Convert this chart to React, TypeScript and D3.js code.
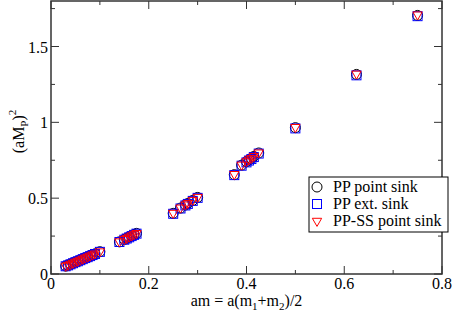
import * as d3 from 'd3';
import React from 'react';

// am = a(m1+m2)/2
const amValues = [
  0.03, 0.035, 0.04, 0.045, 0.05, 0.055, 0.06, 0.065, 0.07, 0.075, 0.08, 0.085, 0.09, 0.1,
  0.14, 0.15, 0.155, 0.16, 0.165, 0.17, 0.175,
  0.25, 0.265, 0.275, 0.28, 0.29, 0.3,
  0.375, 0.39, 0.4, 0.405, 0.41, 0.415, 0.425,
  0.5, 0.625, 0.75,
];

const ppPointSink = [
  0.052, 0.058, 0.065, 0.072, 0.079, 0.085, 0.092, 0.099, 0.106, 0.112, 0.119, 0.126, 0.133, 0.147,
  0.212, 0.228, 0.236, 0.244, 0.252, 0.26, 0.268,
  0.4, 0.435, 0.455, 0.465, 0.485, 0.505,
  0.655, 0.718, 0.74, 0.752, 0.762, 0.775, 0.798,
  0.965, 1.316, 1.705,
];

const ppExtSink = [
  0.051, 0.057, 0.064, 0.071, 0.078, 0.084, 0.091, 0.098, 0.105, 0.111, 0.118, 0.125, 0.132, 0.146,
  0.211, 0.226, 0.234, 0.242, 0.25, 0.258, 0.266,
  0.397, 0.432, 0.452, 0.462, 0.482, 0.502,
  0.652, 0.714, 0.736, 0.748, 0.758, 0.771, 0.794,
  0.96, 1.31, 1.7,
];

const ppSSPointSink = [
  0.053, 0.059, 0.066, 0.073, 0.08, 0.086, 0.093, 0.1, 0.107, 0.113, 0.12, 0.127, 0.134, 0.148,
  0.214, 0.229, 0.237, 0.245, 0.253, 0.261, 0.269,
  0.402, 0.437, 0.457, 0.467, 0.487, 0.507,
  0.658, 0.72, 0.742, 0.754, 0.764, 0.777, 0.8,
  0.968, 1.32, 1.71,
];

const legendLabels = ['PP point sink', 'PP ext. sink', 'PP-SS point sink'];

const xMajor = [0, 0.2, 0.4, 0.6, 0.8];
const xMinor = [0.1, 0.3, 0.5, 0.7];
const yMajor = [0, 0.5, 1, 1.5];
const yMinor = [0.25, 0.75, 1.25, 1.75];

const W = 452;
const H = 312;
const margin = { top: 1, right: 10, bottom: 38, left: 51 };
const serif = { fontFamily: 'Liberation Serif' };

const x = d3.scaleLinear().domain([0, 0.8]).range([margin.left, W - margin.right]);
const y = d3.scaleLinear().domain([0, 1.8]).range([H - margin.bottom, margin.top]);

type Shape = 'circle' | 'square' | 'triangle';

const Marker: React.FC<{ cx: number; cy: number; shape: Shape }> = ({ cx, cy, shape }) => {
  if (shape === 'circle') {
    return <circle cx={cx} cy={cy} r={5} fill="none" stroke="#000" strokeWidth={1} />;
  }
  if (shape === 'square') {
    return <rect x={cx - 4.5} y={cy - 4.5} width={9} height={9} fill="none" stroke="#0000ff" strokeWidth={1} />;
  }
  const tri = d3.symbol().type(d3.symbolTriangle).size(38)();
  return (
    <path
      d={tri ?? ''}
      transform={`translate(${cx},${cy}) rotate(180)`}
      fill="none"
      stroke="#ff0000"
      strokeWidth={1}
    />
  );
};

const series: { values: number[]; shape: Shape }[] = [
  { values: ppPointSink, shape: 'circle' },
  { values: ppExtSink, shape: 'square' },
  { values: ppSSPointSink, shape: 'triangle' },
];

const App: React.FC = () => {
  const [x0, x1] = x.range();
  const [y0, y1] = y.range();
  const axisColor = '#333';

  return (
    <div style={{ position: 'absolute', left: 0, top: 0 }}>
      <svg width={W} height={H} style={{ display: 'block' }}>
        <rect x={0} y={0} width={W} height={H} fill="#fff" />

        {/* data */}
        {series.map((s) =>
          s.values.map((v, i) => (
            <Marker key={`${s.shape}-${i}`} cx={x(amValues[i])} cy={y(v)} shape={s.shape} />
          ))
        )}

        {/* frame */}
        <rect x={x0} y={y1} width={x1 - x0} height={y0 - y1} fill="none" stroke={axisColor} strokeWidth={1.5} />

        {/* ticks, mirrored on all sides */}
        {xMajor.concat(xMinor).map((t) => {
          const len = xMajor.includes(t) ? 8 : 4;
          return (
            <g key={`xt-${t}`} stroke={axisColor} strokeWidth={1}>
              <line x1={x(t)} x2={x(t)} y1={y0} y2={y0 - len} />
              <line x1={x(t)} x2={x(t)} y1={y1} y2={y1 + len} />
            </g>
          );
        })}
        {yMajor.concat(yMinor).map((t) => {
          const len = yMajor.includes(t) ? 8 : 4;
          return (
            <g key={`yt-${t}`} stroke={axisColor} strokeWidth={1}>
              <line x1={x0} x2={x0 + len} y1={y(t)} y2={y(t)} />
              <line x1={x1} x2={x1 - len} y1={y(t)} y2={y(t)} />
            </g>
          );
        })}

        {/* tick labels */}
        {xMajor.map((t) => (
          <text key={`xl-${t}`} x={x(t)} y={y0 + 15} fontSize={16} textAnchor="middle" style={serif}>
            {d3.format('~g')(t)}
          </text>
        ))}
        {yMajor.map((t) => (
          <text key={`yl-${t}`} x={x0 - 3} y={y(t) + 6} fontSize={16} textAnchor="end" style={serif}>
            {d3.format('~g')(t)}
          </text>
        ))}

        {/* axis titles */}
        <text x={(x0 + x1) / 2} y={H - 6} fontSize={16} textAnchor="middle" style={serif}>
          am = a(m<tspan fontSize={11} dy={4}>1</tspan>
          <tspan dy={-4}>+m</tspan>
          <tspan fontSize={11} dy={4}>2</tspan>
          <tspan dy={-4}>)/2</tspan>
        </text>
        <text transform={`translate(24,${(y0 + y1) / 2 - 6}) rotate(-90)`} fontSize={16} textAnchor="middle" style={serif}>
          (aM<tspan fontSize={11} dy={4}>P</tspan>
          <tspan dy={-4}>)</tspan>
          <tspan fontSize={11} dy={-8}>2</tspan>
        </text>

        {/* legend */}
        <rect x={309} y={177} width={139} height={55} fill="#fff" stroke="#000" strokeWidth={1} />
        {series.map((s, i) => (
          <g key={`lg-${i}`}>
            <Marker cx={317} cy={187 + i * 17} shape={s.shape} />
            <text x={333} y={192 + i * 17} fontSize={16} style={serif}>
              {legendLabels[i]}
            </text>
          </g>
        ))}
      </svg>
    </div>
  );
};

export default App;
